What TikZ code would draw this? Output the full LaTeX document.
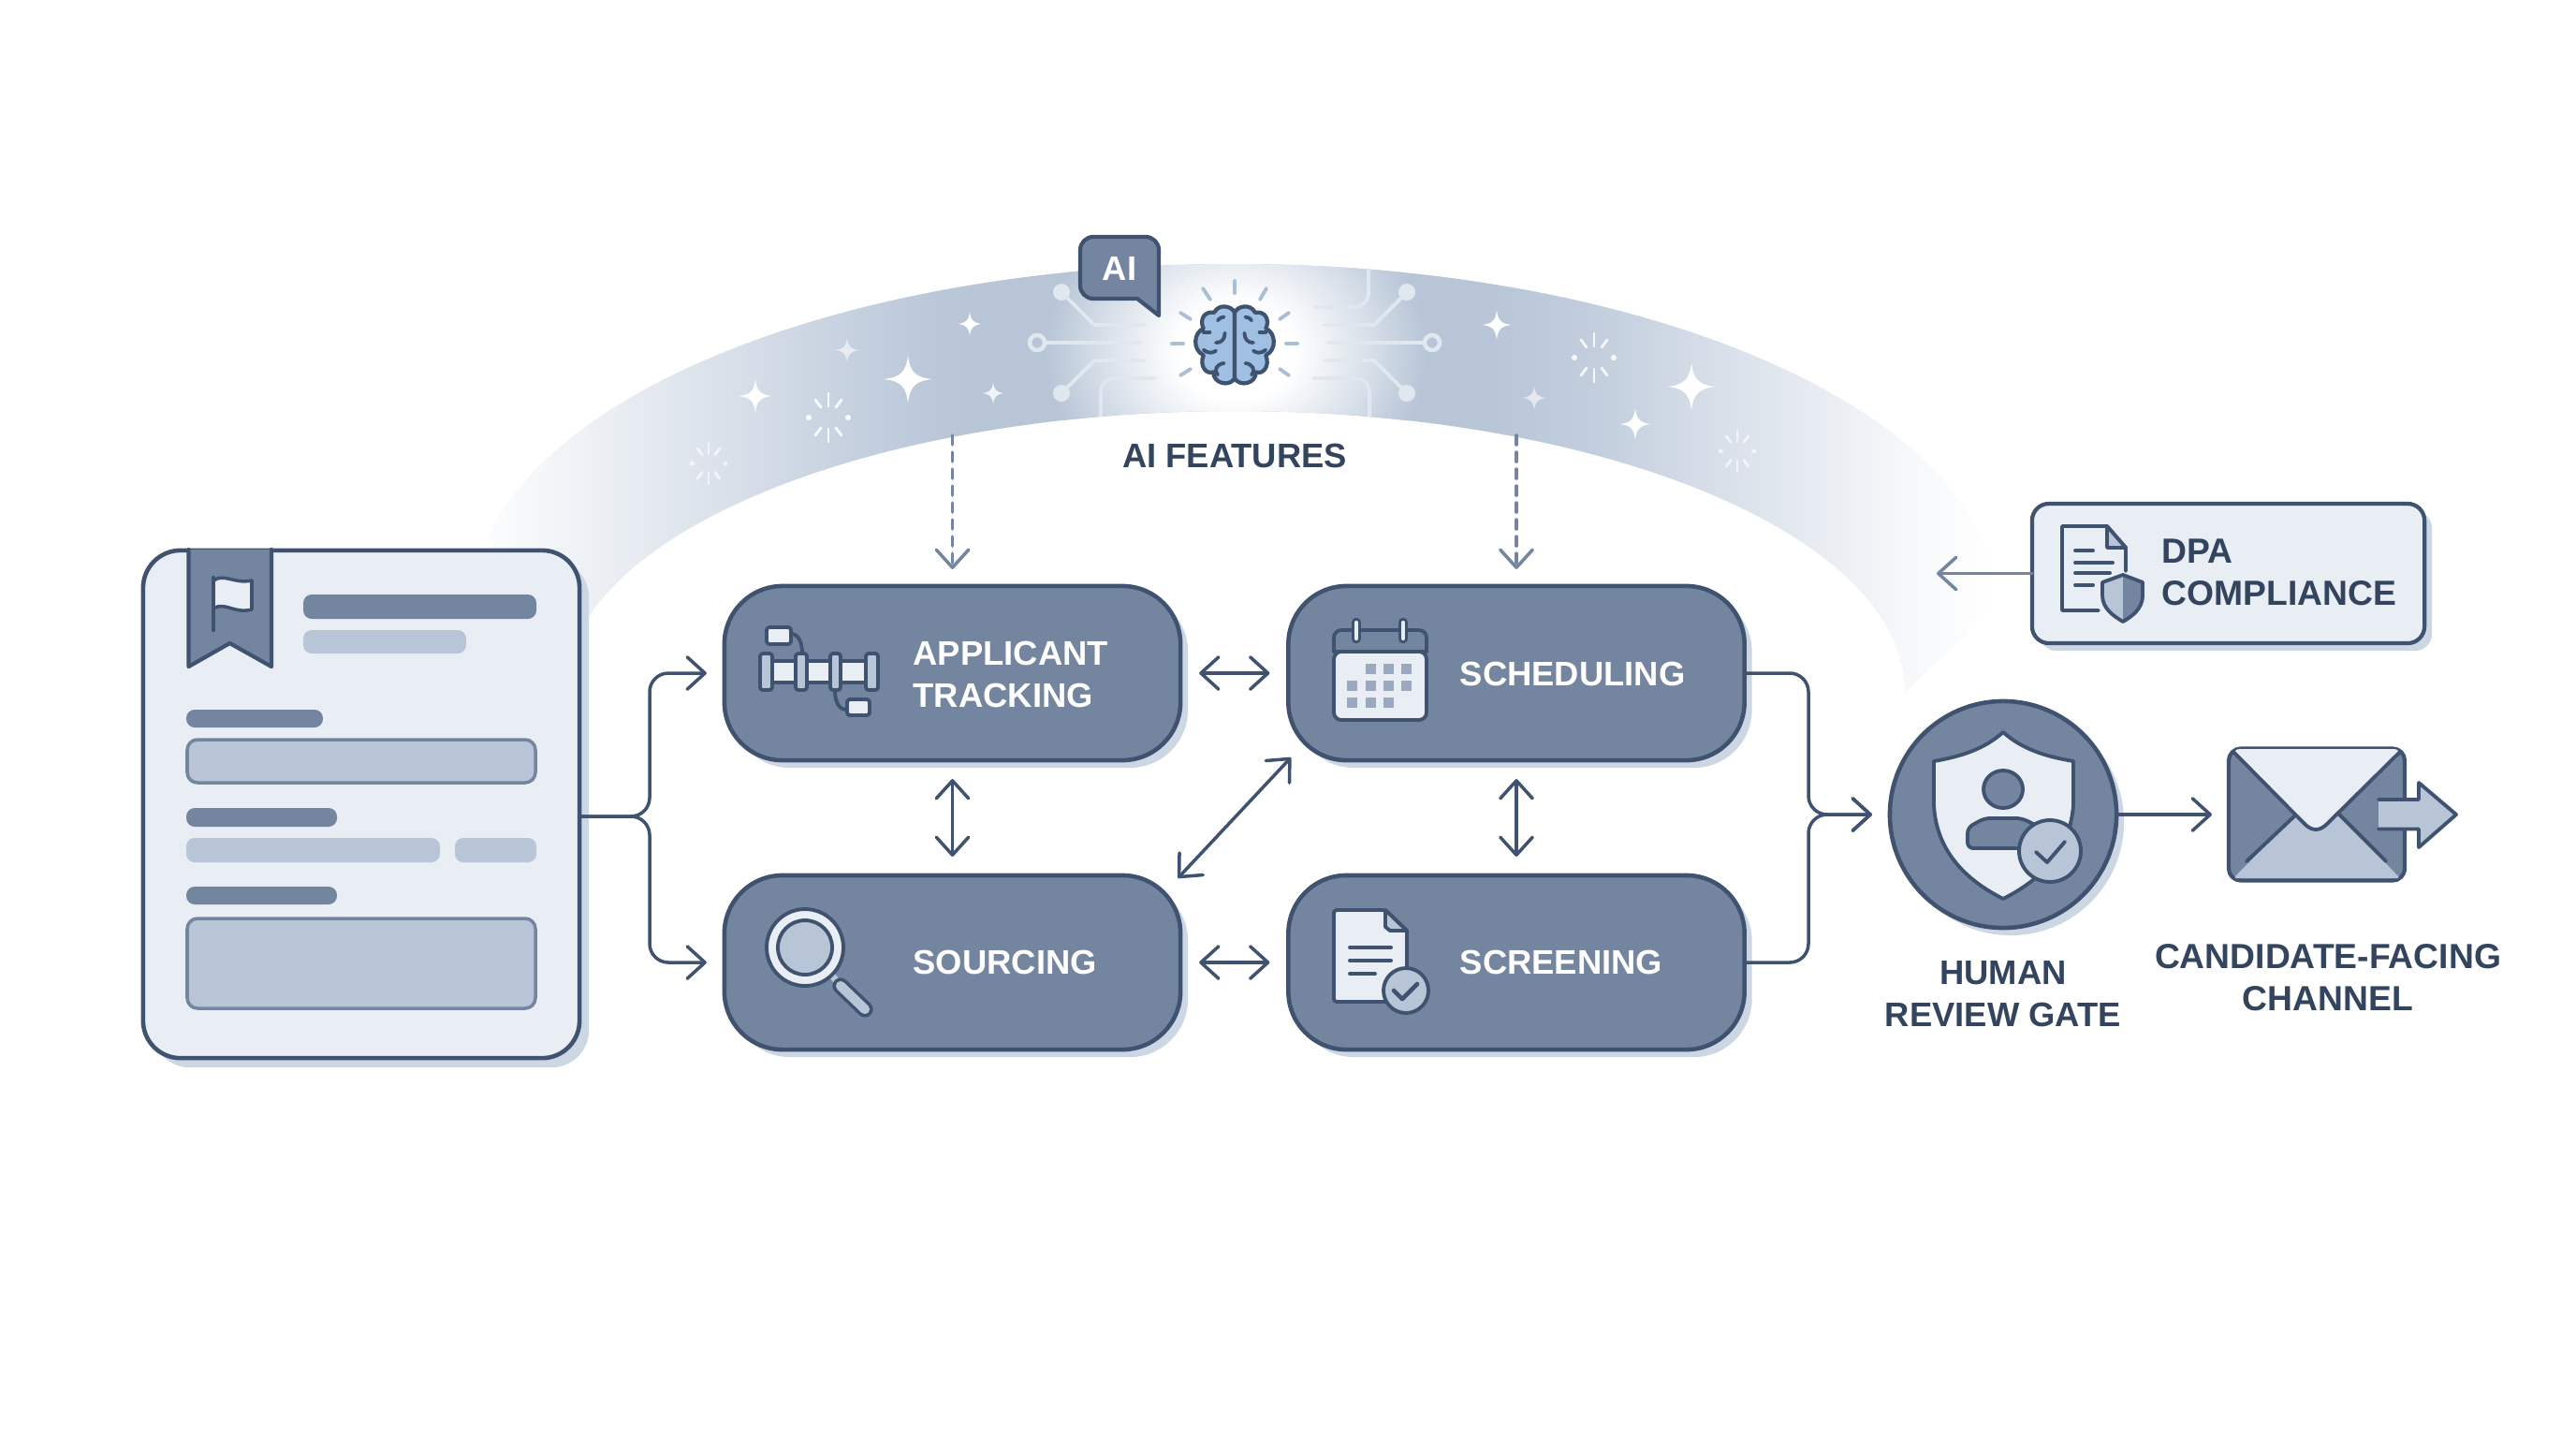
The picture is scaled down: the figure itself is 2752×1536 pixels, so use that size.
\documentclass[tikz,border=0pt]{standalone}
\usepackage{fontspec}
\setmainfont{Liberation Sans}
\usetikzlibrary{arrows.meta, shadows}

\definecolor{inkc}{HTML}{3F5270}
\definecolor{textc}{HTML}{33445E}
\definecolor{slatec}{HTML}{7485A0}
\definecolor{bandc}{HTML}{B7C5D7}
\definecolor{paperc}{HTML}{E9EDF4}
\definecolor{shadc}{HTML}{CDD7E4}
\definecolor{tracec}{HTML}{E1E7EF}
\definecolor{brainc}{HTML}{9FC0E3}
\definecolor{rayc}{HTML}{A9BFD8}
\definecolor{gridc}{HTML}{9AA9C0}

\pgfdeclarehorizontalshading{archfade}{100bp}{color(0bp)=(white);color(25bp)=(white);
  color(26.7bp)=(bandc!12!white);color(31bp)=(bandc!38!white);color(35.6bp)=(bandc!68!white);
  color(40.2bp)=(bandc!96!white);color(42bp)=(bandc);color(58bp)=(bandc);
  color(61.7bp)=(bandc!85!white);color(66.3bp)=(bandc!52!white);color(69.4bp)=(bandc!30!white);
  color(72.1bp)=(bandc!12!white);color(75bp)=(white);color(100bp)=(white)}
\pgfdeclareradialshading{corona}{\pgfpointorigin}{color(0bp)=(white);color(7.5bp)=(white);
  color(14bp)=(bandc!35!white);color(25bp)=(bandc);color(50bp)=(bandc)}

\newcommand{\sparkle}[4]{%
  \fill[white,opacity=#4,shift={(#1,#2)},scale=#3] (0,-1) .. controls (.07,-.3) and (.3,-.07) .. (1,0)
    .. controls (.3,.07) and (.07,.3) .. (0,1) .. controls (-.07,.3) and (-.3,.07) .. (-1,0)
    .. controls (-.3,-.07) and (-.07,-.3) .. (0,-1) -- cycle;}
\newcommand{\burst}[4]{%
  \begin{scope}[shift={(#1,#2)},scale=#3,opacity=#4]
    \foreach \sx in {-1,1} {
      \fill[white] (\sx*21,0) circle[radius=3];
      \draw[white,line width=0.8pt] (0,\sx*12) -- (0,\sx*26);
      \foreach \sy in {-1,1}
        \draw[white,line width=0.8pt] (\sx*8,\sy*11) -- (\sx*14,\sy*19);
    }
  \end{scope}}
\newcommand{\brainhalf}{%
  \filldraw[fill=brainc,draw=inkc,line width=1.2pt] (0,-36) .. controls (-4,-44) and (-18,-46) .. (-23,-36)
    .. controls (-34,-38) and (-40,-28) .. (-35,-18) .. controls (-46,-14) and (-48,6) .. (-35,12)
    .. controls (-40,24) and (-32,34) .. (-24,31) .. controls (-24,44) and (-6,48) .. (0,38) -- cycle;
  \draw[inkc,line width=1.1pt] (-21,-2) .. controls (-14,-2) and (-11,-7) .. (-11,-13);
  \draw[inkc,line width=1.1pt] (-35,6) .. controls (-30,10) and (-25,10) .. (-21,7);
  \draw[inkc,line width=1.1pt] (-19,34) .. controls (-24,28) and (-20,22) .. (-12,21);
  \draw[inkc,line width=1.1pt] (-35,-14) -- (-28,-14);
  \draw[inkc,line width=1.1pt] (-19,-27) .. controls (-17,-30) and (-14,-31) .. (-12,-31);}

\begin{document}
\begin{tikzpicture}[x=0.01cm, y=-0.01cm, line cap=round, line join=round,
    >={Straight Barb[round,length=5.4pt,width=9.8pt]},
    lift/.style={general shadow={fill=shadc,shadow xshift=0.08cm,shadow yshift=-0.08cm}},
    block/.style={draw=inkc,fill=slatec,line width=1.3pt,rectangle,rounded corners=0.62cm,
      minimum width=4.87cm,minimum height=1.86cm,inner sep=0pt,outer sep=0pt,lift},
    lbl/.style={font=\bfseries\fontsize{10.35}{12.8}\selectfont,text=textc,align=center,inner sep=0pt},
    widelbl/.style={font=\bfseries\fontsize{10.6}{12.8}\selectfont},
    blbl/.style={lbl,text=white,align=left,anchor=west},
    link/.style={draw=inkc,line width=1pt},
    dlink/.style={link,<->,shorten <=0.2cm,shorten >=0.2cm},
    trace/.style={draw=tracec,line width=1.1pt},
    icon/.style={draw=inkc,line width=1.1pt},
    ray/.style={draw=rayc,line width=1.1pt}]
  \useasboundingbox (0,0) rectangle (2752,1536);

  %% arch
  \shade[shading=archfade] (2133,647) arc[start angle=0,end angle=-180,x radius=814,y radius=365]
    -- (603,739) arc[start angle=180,end angle=360,x radius=716,y radius=300] -- cycle;
  \begin{scope}
    \clip (2133,647) arc[start angle=0,end angle=-180,x radius=814,y radius=365]
      -- (603,739) arc[start angle=180,end angle=360,x radius=716,y radius=300] -- cycle;
    \shade[shading=corona] (1320,375) ellipse[x radius=205,y radius=175];
    % circuit traces
    \draw[trace,rounded corners=0.15cm] (1234,404) -- (1176,404) -- (1176,450);
    \draw[trace,rounded corners=0.15cm] (1405,328) -- (1462,328) -- (1462,275);
    \draw[trace,rounded corners=0.15cm] (1403,404) -- (1463,404) -- (1463,450);
  \end{scope}
  \draw[trace] (1223,347) -- (1169,347) -- (1134,312);
  \draw[trace] (1218,366) -- (1117,366);
  \draw[trace] (1223,385) -- (1169,385) -- (1134,420);
  \draw[trace] (1415,347) -- (1468,347) -- (1503,312);
  \draw[trace] (1420,366) -- (1521,366);
  \draw[trace] (1415,385) -- (1468,385) -- (1503,420);
  \foreach \cx/\cy in {1134/312,1134/420,1503/312,1503/420}
    \fill[tracec] (\cx,\cy) circle[radius=9];
  \foreach \cx in {1108,1530}
    \draw[tracec,line width=1.3pt] (\cx,366) circle[radius=8];

  %% sparkles
  \sparkle{970}{405}{26}{1}
  \sparkle{807}{423}{18}{1}
  \sparkle{905}{374}{13}{.6}
  \sparkle{1036}{346}{13}{1}
  \sparkle{1061}{420}{12}{.8}
  \sparkle{1599}{347}{16}{1}
  \sparkle{1807}{413}{26}{1}
  \sparkle{1747}{453}{17}{1}
  \sparkle{1639}{425}{13}{.6}
  \burst{885}{446}{1}{.9}
  \burst{757}{495}{.85}{.65}
  \burst{1703}{382}{1}{.85}
  \burst{1856}{482}{.85}{.65}

  %% brain
  \begin{scope}[shift={(1319,368)},scale=.95]
    \brainhalf
    \begin{scope}[xscale=-1]
      \brainhalf
    \end{scope}
  \end{scope}
  \foreach \xa/\ya/\xb/\yb in {1319/300/1319/313,1285/308/1293/320,1353/308/1346/320,1261/334/1272/341,
      1377/334/1367/341,1252/367/1264/367,1374/367/1386/367,1261/401/1272/394,1377/401/1367/394}
    \draw[ray] (\xa,\ya) -- (\xb,\yb);

  %% speech badge
  \filldraw[fill=slatec,draw=inkc,line width=1.2pt] (1238,337) -- (1215,319) [rounded corners=0.14cm]
    -- (1154,319) -- (1154,253) -- (1238,253) [sharp corners] -- (1238,337) -- cycle;
  \node (aibadge) at (1196,287) [lbl,text=white] {AI};
  \node (features) at (1319,487) [lbl] {AI FEATURES};

  %% blocks
  \node (form) at (386,859) [draw=inkc,fill=paperc,line width=1.3pt,rectangle,rounded corners=0.4cm,
    minimum width=4.66cm,minimum height=5.42cm,inner sep=0pt,outer sep=0pt,
    general shadow={fill=shadc,shadow xshift=0.1cm,shadow yshift=-0.1cm}] {};
  \node (ats) at (1017.5,719) [block] {};
  \node (sourcing) at (1017.5,1028) [block] {};
  \node (sched) at (1620,719) [block] {};
  \node (screen) at (1620,1028) [block] {};
  \node (dpa) at (2380.5,612.5) [draw=inkc,fill=paperc,line width=1.2pt,rectangle,rounded corners=0.18cm,
    minimum width=4.19cm,minimum height=1.49cm,inner sep=0pt,outer sep=0pt,lift] {};
  \node (gate) at (2140,870) [draw=inkc,fill=slatec,line width=1.3pt,circle,
    minimum size=2.42cm,inner sep=0pt,outer sep=0pt,lift] {};
  \node (mail) at (2475,870) [draw=inkc,fill=slatec,line width=1.2pt,rectangle,rounded corners=0.13cm,
    minimum width=1.88cm,minimum height=1.41cm,inner sep=0pt,outer sep=0pt] {};

  \node (atslbl) at (975,720) [blbl] {APPLICANT\\TRACKING};
  \node (sourcinglbl) at (975,1028) [blbl] {SOURCING};
  \node (schedlbl) at (1559,720) [blbl] {SCHEDULING};
  \node (screenlbl) at (1559,1028) [blbl] {SCREENING};
  \node (dpalbl) at (2309,611) [blbl,text=textc,widelbl] {DPA\\COMPLIANCE};
  \node (gatelbl) at (2140,1062) [lbl] {HUMAN\\REVIEW GATE};
  \node (maillbl) at (2487,1044) [lbl,widelbl] {CANDIDATE-FACING\\CHANNEL};

  %% form contents
  \filldraw[fill=slatec,draw=inkc,line width=1.2pt] (201.5,587) -- (201.5,712) -- (245.5,687) -- (290,712) -- (290,587);
  \filldraw[fill=paperc,draw=inkc,line width=1pt] (228,620) .. controls (240,612) and (250,624) .. (269,620)
    -- (269,651) .. controls (250,656) and (240,642) .. (228,650);
  \draw[inkc,line width=1.2pt] (228,617) -- (228,673);
  \foreach \xa/\ya/\xb/\yb/\fc in {324/635/573/661/slatec,324/673/498/698/bandc,199/758/345/777/slatec,
      199/863/360/883/slatec,199/895/470/921/bandc,486/895/573/921/bandc,199/947/360/966/slatec}
    \fill[\fc,rounded corners=0.09cm] (\xa,\ya) rectangle (\xb,\yb);
  \filldraw[fill=bandc,draw=slatec,line width=1pt,rounded corners=0.11cm] (200,790) rectangle (572,836);
  \filldraw[fill=bandc,draw=slatec,line width=1pt,rounded corners=0.11cm] (200,981) rectangle (572,1077);

  %% applicant tracking icon
  \draw[icon] (845,677) .. controls (853,677) and (857,686) .. (857,698);
  \draw[icon] (892,737) .. controls (892,750) and (896,758) .. (905,758);
  \filldraw[icon,fill=paperc,rounded corners=0.03cm] (819,670) rectangle (845,688);
  \filldraw[icon,fill=paperc,rounded corners=0.03cm] (905,747) rectangle (929,764);
  \foreach \xa/\xb in {825/850,862/887,898/925}
    \filldraw[icon,fill=paperc] (\xa,706) rectangle (\xb,729);
  \foreach \xa/\xb in {812/825,850/862,887/898,925/938}
    \filldraw[icon,fill=bandc,rounded corners=0.03cm] (\xa,698) rectangle (\xb,737);

  %% magnifier icon
  \draw[bandc,line width=2pt] (889,1042) -- (896,1051);
  \draw[inkc,line width=4.9pt] (898,1053) -- (924,1078);
  \draw[bandc,line width=2.9pt] (898,1053) -- (924,1078);
  \filldraw[icon,fill=paperc] (860,1012) circle[radius=41];
  \filldraw[icon,fill=bandc] (860,1012) circle[radius=29];

  %% calendar icon
  \filldraw[icon,fill=paperc,rounded corners=0.08cm] (1425,696) -- (1425,769) -- (1524,769) -- (1524,696) -- cycle;
  \draw[icon,rounded corners=0.08cm] (1425,696) -- (1425,673) -- (1524,673) -- (1524,696);
  \draw[icon] (1425,696) -- (1524,696);
  \foreach \cx in {1449,1499} {
    \draw[inkc,line width=3pt] (\cx,665) -- (\cx,682);
    \draw[paperc,line width=1.2pt] (\cx,665) -- (\cx,682);
  }
  \foreach \cx/\cy in {1459/709,1478/709,1497/709,1439/727,1459/727,1478/727,1497/727,1439/745,1459/745,1478/745}
    \fill[gridc] (\cx,\cy) rectangle ++(11,11);

  %% screening icon
  \filldraw[icon,fill=paperc,rounded corners=0.03cm] (1425,972) -- (1480,972) [sharp corners] -- (1503,994)
    -- (1503,1070) [rounded corners=0.03cm] -- (1425,1070) -- cycle;
  \filldraw[icon,fill=bandc] (1480,972) -- (1503,994) -- (1485,994) -- (1480,990) -- cycle;
  \foreach \cy/\xb in {1012/1486,1026/1486,1040/1469}
    \draw[icon] (1442,\cy) -- (\xb,\cy);
  \filldraw[icon,fill=bandc] (1502,1058) circle[radius=24];
  \draw[icon,line width=1.3pt] (1489,1058) -- (1498,1067) -- (1514,1051);

  %% dpa icon
  \draw[icon] (2271,610) -- (2271,585) -- (2251,562) -- (2203,562) -- (2203,652) -- (2242,652);
  \filldraw[icon,fill=bandc] (2251,562) -- (2251,585) -- (2271,585) -- cycle;
  \foreach \cy/\xb in {588/2236,601/2257,612/2254,625/2236}
    \draw[icon] (2217,\cy) -- (\xb,\cy);
  \filldraw[fill=bandc,draw=none] (2268,614) -- (2246,622) -- (2246,636) .. controls (2246,650) and (2258,658) .. (2268,664) -- cycle;
  \filldraw[fill=slatec,draw=none] (2268,614) -- (2289,622) -- (2289,636) .. controls (2289,650) and (2278,658) .. (2268,664) -- cycle;
  \draw[icon] (2268,614) -- (2246,622) -- (2246,636) .. controls (2246,650) and (2258,658) .. (2268,664)
    .. controls (2278,658) and (2289,650) .. (2289,636) -- (2289,622) -- cycle;

  %% gate icon
  \filldraw[icon,fill=paperc] (2140,782) .. controls (2120,800) and (2095,808) .. (2066,813)
    -- (2066,860) .. controls (2068,900) and (2090,935) .. (2140,960)
    .. controls (2190,935) and (2212,900) .. (2215,860) -- (2215,813)
    .. controls (2185,808) and (2160,800) .. (2140,782) -- cycle;
  \filldraw[icon,fill=slatec] (2140,843) ellipse[x radius=21,y radius=20];
  \filldraw[icon,fill=slatec,rounded corners=0.06cm] (2102,906) -- (2102,884) -- (2120,874) -- (2160,874) -- (2180,884) -- (2180,906) -- cycle;
  \filldraw[icon,fill=bandc] (2190,909) circle[radius=33];
  \draw[icon] (2175,910) -- (2187,921) -- (2206,899);

  %% mail icon
  \fill[bandc,rounded corners=0.03cm] (2453,870) -- (2386,938) -- (2564,938) -- (2499,870) -- cycle;
  \draw[icon] (2453,870) -- (2400,920);
  \draw[icon] (2499,870) -- (2549,920);
  \fill[paperc,rounded corners=0.1cm] (2383,800) -- (2567,800) -- (2486,880) .. controls (2478,888) and (2470,888) .. (2462,880) -- cycle;
  \draw[icon] (2386,803) -- (2462,880) .. controls (2470,888) and (2478,888) .. (2486,880) -- (2564,803);
  \fill[bandc] (2541,854) -- (2584,854) -- (2584,836) -- (2624,870) -- (2584,905) -- (2584,885.5) -- (2541,885.5) -- cycle;
  \draw[icon] (2541,854) -- (2584,854) -- (2584,836) -- (2624,870) -- (2584,905) -- (2584,885.5) -- (2541,885.5);

  %% connectors
  \coordinate (fl) at (694,872);
  \coordinate (fr) at (1932,870);
  \coordinate (featl) at (1017.5,465);
  \coordinate (featr) at (1620,465);
  \coordinate (dpatip) at (2069,612.5);
  \draw[link,->,rounded corners=0.2cm,shorten >=0.19cm] (form.east |- fl) -- (fl) -- (fl |- ats.west) -- (ats.west);
  \draw[link,->,rounded corners=0.2cm,shorten >=0.19cm] (form.east |- fl) -- (fl) -- (fl |- sourcing.west) -- (sourcing.west);
  \draw[link,->,rounded corners=0.2cm,shorten >=0.19cm] (sched.east) -- (fr |- sched.east) -- (fr) -- (gate.west);
  \draw[link,->,rounded corners=0.2cm,shorten >=0.19cm] (screen.east) -- (fr |- screen.east) -- (fr) -- (gate.west);
  \draw[dlink] (ats) -- (sourcing);
  \draw[dlink] (sched) -- (screen);
  \draw[dlink] (ats) -- (sched);
  \draw[dlink] (sourcing) -- (screen);
  \draw[link,<->,shorten <=-0.04cm,shorten >=-0.04cm] (sourcing.north east) -- (sched.south west);
  \draw[link,->,draw=slatec,dash pattern=on 0.1cm off 0.08cm,shorten >=0.18cm] (featl) -- (ats);
  \draw[link,->,draw=slatec,dash pattern=on 0.1cm off 0.08cm,shorten >=0.18cm] (featr) -- (sched);
  \draw[link,->,draw=slatec] (dpa.west) -- (dpatip);
  \draw[link,->,shorten >=0.18cm] (gate.east) -- (mail.west);
\end{tikzpicture}
\end{document}
